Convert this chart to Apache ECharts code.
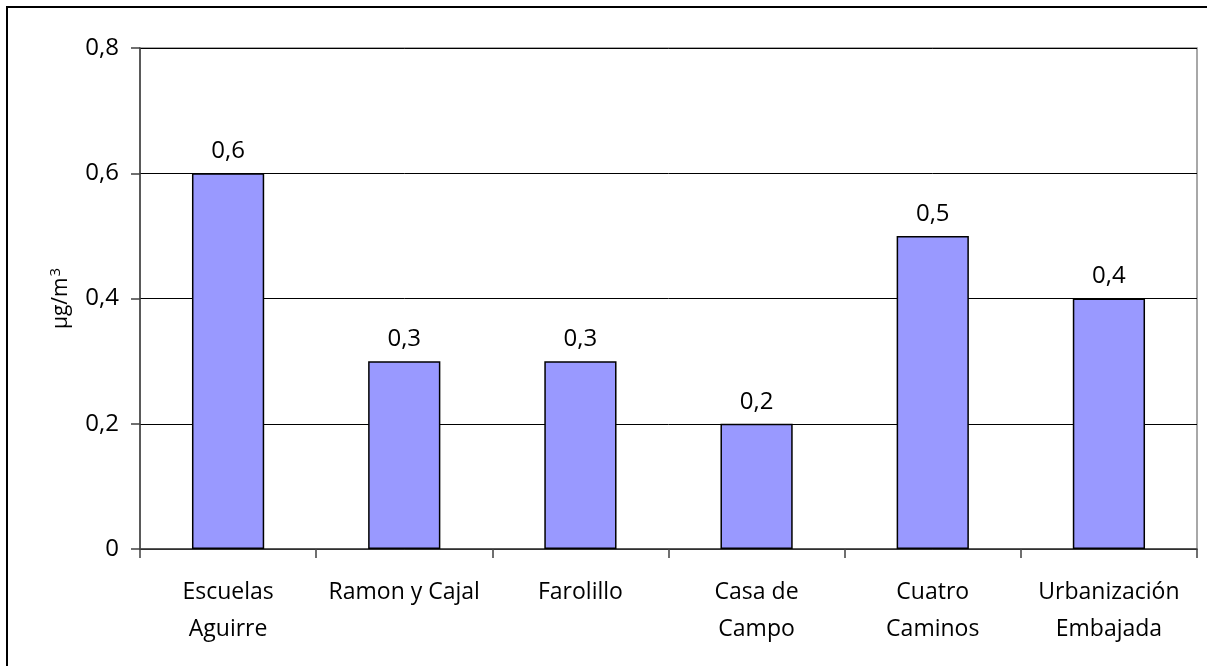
<!DOCTYPE html>
<html>
<head>
<meta charset="utf-8">
<script src="https://cdn.jsdelivr.net/npm/echarts@6/dist/echarts.min.js"></script>
<style>
  html, body { margin: 0; padding: 0; background: #fff; }
  #container { width: 1207px; height: 666px; }
</style>
</head>
<body>
<div id="container"></div>
<script>
  var dom = document.getElementById("container");
  var myChart = echarts.init(dom);

  // estaciones
  var categories = ['Escuelas\nAguirre', 'Ramon y Cajal', 'Farolillo', 'Casa de\nCampo', 'Cuatro\nCaminos', 'Urbanización\nEmbajada'];
  var values = [0.6, 0.3, 0.3, 0.2, 0.5, 0.4];
  var yTicks = [0, 0.2, 0.4, 0.6, 0.8];

  var fontName = 'Open Sans';
  var fsCat = 23;
  var fsNum = 24;

  var option = {
    animation: false,
    backgroundColor: '#fff',
    // marco exterior
    graphic: [{
      type: 'rect',
      shape: { x: 7, y: 7, width: 1220, height: 680 },
      style: { fill: 'none', stroke: '#000', lineWidth: 2 }
    }, {
      type: 'rect',
      shape: { x: 140, y: 48, width: 1057, height: 501 },
      style: { fill: 'none', stroke: '#8c8c8c', lineWidth: 1.5 },
      z: 0
    }],
    grid: {
      left: 140,
      right: 10,
      top: 48,
      bottom: 117
    },
    xAxis: {
      type: 'category',
      data: categories,
      axisLine: { lineStyle: { color: '#404040', width: 1.5 } },
      axisTick: { show: true, length: 9, lineStyle: { color: '#404040', width: 1.5 } },
      axisLabel: {
        interval: 0,
        color: '#000',
        fontFamily: fontName,
        fontSize: fsCat,
        lineHeight: 37,
        margin: 25
      }
    },
    yAxis: {
      type: 'value',
      min: 0,
      max: 0.8,
      interval: 0.2,
      name: '{a|µg/m}{b|3}',
      nameLocation: 'middle',
      nameGap: 66,
      nameRotate: 90,
      nameTextStyle: {
        color: '#000',
        rich: {
          a: { fontFamily: fontName, fontSize: 21, color: '#000' },
          b: { fontFamily: fontName, fontSize: 15, color: '#000', padding: [0, 0, 11, 1] }
        }
      },
      axisLine: { show: true, lineStyle: { color: '#404040', width: 1.5 } },
      axisTick: { show: true, length: 9, lineStyle: { color: '#404040', width: 1.5 } },
      splitLine: { show: true, lineStyle: { color: '#000', width: 1 } },
      axisLabel: {
        color: '#000',
        fontFamily: fontName,
        fontSize: fsNum,
        margin: 21,
        formatter: function (v) {
          if (yTicks.indexOf(Math.round(v * 10) / 10) < 0) return '';
          return v === 0 ? '0' : v.toFixed(1).replace('.', ',');
        }
      }
    },
    series: [{
      type: 'bar',
      data: values,
      barWidth: '41%',
      itemStyle: { color: '#9999ff', borderColor: '#000', borderWidth: 1.5 },
      label: {
        show: true,
        position: 'top',
        distance: 10,
        color: '#000',
        fontFamily: fontName,
        fontSize: fsNum,
        formatter: function (p) { return p.value.toFixed(1).replace('.', ','); }
      }
    }]
  };

  myChart.setOption(option, true);
</script>
</body>
</html>
